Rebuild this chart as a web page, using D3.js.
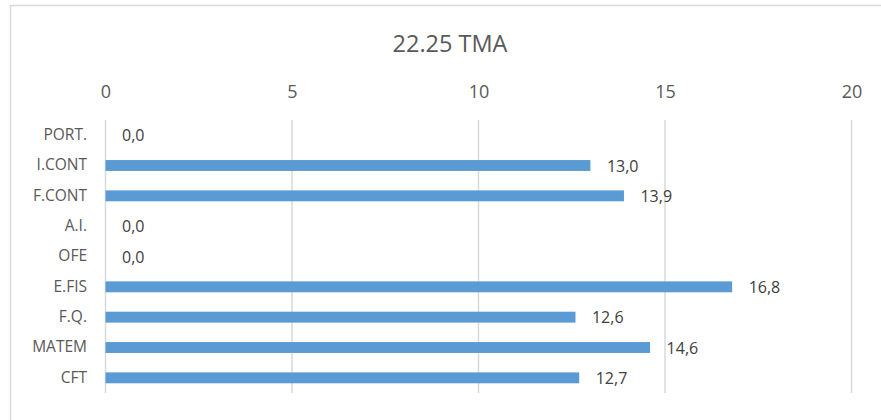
<!DOCTYPE html>
<html><head><meta charset="utf-8">
<script src="https://cdn.jsdelivr.net/npm/d3@7"></script>
<style>body{margin:0;background:#fff}</style>
</head><body>
<svg id="c" width="881" height="420"></svg>
<script>
const categories = ["PORT.","I.CONT","F.CONT","A.I.","OFE","E.FIS","F.Q.","MATEM","CFT"];
const values = [0.0,13.0,13.9,0.0,0.0,16.8,12.6,14.6,12.7];
const ticks = [0,5,10,15,20];
const title = "22.25 TMA";

const svg = d3.select("#c");
const font = "'Open Sans', sans-serif";
svg.append("rect").attr("x",10.5).attr("y",5.5).attr("width",890).attr("height",430)
  .attr("fill","#fff").attr("stroke","#d9d9d9").attr("stroke-width",1.5);

const x = d3.scaleLinear().domain([0,20]).range([105.5,851.5]);
const y = d3.scaleBand().domain(categories).range([120,393]).paddingInner(0.64).paddingOuter(0.32);

svg.append("text").attr("x",450).attr("y",52).attr("text-anchor","middle")
  .attr("font-family",font).attr("font-size",23.5).attr("fill","#595959").text(title);

const xa = svg.append("g").attr("transform","translate(0,120)")
  .call(d3.axisTop(x).tickValues(ticks).tickSize(0).tickPadding(22).tickFormat(d3.format("d")));
xa.select(".domain").remove();
xa.selectAll("text").attr("font-family",font).attr("font-size",18).attr("fill","#595959");

svg.append("g").selectAll("line").data(ticks).join("line")
  .attr("x1",d=>x(d)).attr("x2",d=>x(d)).attr("y1",120).attr("y2",393)
  .attr("stroke","#d9d9d9").attr("stroke-width",1.5);

const ya = svg.append("g").attr("transform","translate(105,0)")
  .call(d3.axisLeft(y).tickSize(0).tickPadding(18));
ya.select(".domain").remove();
ya.selectAll("text").attr("font-family",font).attr("font-size",15.5).attr("fill","#595959");

svg.append("g").selectAll("rect").data(values).join("rect")
  .attr("x",x(0)).attr("y",(d,i)=>y(categories[i]))
  .attr("width",d=>x(d)-x(0)).attr("height",y.bandwidth())
  .attr("fill","#5b9bd5");

const fmt = d=>d.toFixed(1).replace(".",",");
svg.append("g").selectAll("text").data(values).join("text")
  .attr("x",d=>x(d)+16.5).attr("y",(d,i)=>y(categories[i])+y.bandwidth()/2)
  .attr("dy","0.38em").attr("font-family",font).attr("font-size",16)
  .attr("fill","#404040").text(fmt);
</script>
</body></html>
